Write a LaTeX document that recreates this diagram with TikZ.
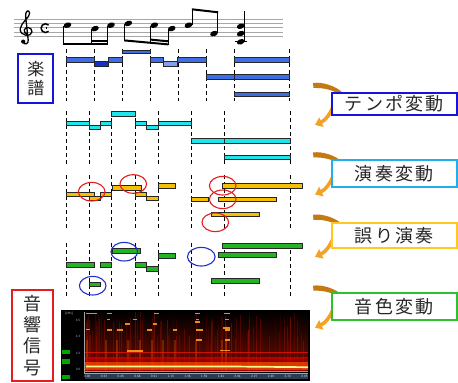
\documentclass[tikz,border=0pt]{standalone}
\usepackage{fontspec}
\newfontfamily\jp{Noto Sans CJK JP}
\usetikzlibrary{arrows.meta}
\definecolor{scoreblue}{HTML}{3D6EE6}
\definecolor{scoredark}{HTML}{1432C8}
\definecolor{cyanbar}{HTML}{20E4EC}
\definecolor{goldbar}{HTML}{F6C000}
\definecolor{greenbar}{HTML}{22B422}
\definecolor{circred}{HTML}{E41E1E}
\definecolor{circblue}{HTML}{2030D0}
\definecolor{tempoblue}{HTML}{1414DC}
\definecolor{ensoblue}{HTML}{22AEEA}
\definecolor{ayamari}{HTML}{FFC820}
\definecolor{neiro}{HTML}{2EC02E}
\definecolor{arrfront}{HTML}{F4A224}
\definecolor{arrback}{HTML}{C47A12}
\definecolor{axisbg}{HTML}{2C3C50}
\definecolor{spred}{HTML}{A01000}
\definecolor{harmc}{HTML}{FF9A22}
\tikzset{
  dline/.style={black, line width=0.9pt, dash pattern=on 3.5pt off 3.5pt},
  nbar/.style={draw=black!85, line width=0.6pt},
  rbox/.style={draw, fill=white, line width=2pt, minimum width=125pt, inner sep=0pt,
    font=\jp\fontsize{18}{20}\selectfont\addfontfeatures{LetterSpace=12}, text=black!85},
  lbox/.style={draw, fill=white, line width=2pt, inner sep=0pt, align=center, text=black!85},
  stemline/.style={line width=0.8pt},
  beam/.style={line width=2pt},
  harm/.style={harmc, line width=1.2pt, opacity=0.9},
  ticklab/.style={font=\sffamily\fontsize{3.3}{4}\selectfont, text=white!80!cyan, inner sep=0pt},
  ringred/.style={circred, line width=1.1pt},
  ringblue/.style={circblue, line width=1.1pt},
}
\newcommand\nbr[4]{\filldraw[nbar,fill=#4] (#1,#3-2.4) rectangle (#2,#3+2.4);}
\newcommand\nhd[2]{\fill[rotate around={20:(#1,#2)}] (#1,#2) ellipse [x radius=4, y radius=2.6];}
\newcommand\twist[1]{%
  \fill[arrback] (313,#1-21) .. controls (322,#1-22.5) and (336,#1-18) .. (343,#1-11) -- (343,#1-7) .. controls (335,#1-14) and (323,#1-16.5) .. (313.5,#1-16) -- cycle;
  \draw[arrfront, line width=3.6pt, -{Triangle[width=10pt,length=7pt]}] (334,#1+1) .. controls (330,#1+10) and (326,#1+16) .. (315,#1+21);
}
\begin{document}
\begin{tikzpicture}[x=1pt,y=-1pt]
\useasboundingbox (0,0) rectangle (458,383);
\fill[white] (0,0) rectangle (458,383);

% ---------- staff ----------
\foreach \y in {19,23.3,27.6,31.9,36.2} \draw[gray!70, line width=0.8pt] (14,\y) -- (283,\y);
% treble clef
\draw[line width=1.3pt, line cap=round] (23,42) .. controls (25,45.5) and (28.8,43.5) .. (28.2,40) -- (25.6,16)
  .. controls (25.2,11) and (29,9) .. (29.6,13) .. controls (30.2,17.5) and (21,22) .. (20.2,29)
  .. controls (19.5,36) and (31.5,37.5) .. (32,32) .. controls (32.4,27) and (25,26) .. (24.3,30)
  .. controls (24,32.5) and (25.5,33.8) .. (27,33.8);
\fill (23.2,41.6) circle (2.1);
% common time
\draw[line width=1.5pt] (48.6,31.3) arc[start angle=45, end angle=315, radius=4.4];
\draw[line width=0.8pt] (46.6,26.8) -- (46.6,29.2);
% notes group 1
\nhd{67.5}{25.2}\nhd{95}{28.6}\nhd{111}{25.2}
\draw[stemline] (63.7,25.8) -- (63.7,44.4); \draw[stemline] (91.2,29) -- (91.2,44.4); \draw[stemline] (107.2,25.8) -- (107.2,44.4);
\draw[beam] (63.3,43.5) -- (107.6,43.5); \draw[beam] (91,40.8) -- (107.6,40.8);
% notes group 2
\nhd{128.3}{23.4}\nhd{154.3}{25.2}\nhd{171.7}{28.6}
\draw[stemline] (124.5,24) -- (124.5,41.3); \draw[stemline] (150.7,25.8) -- (150.7,43.6); \draw[stemline] (167.9,29) -- (167.9,45.2);
\draw[beam] (124.1,40.4) -- (168.3,44.4); \draw[beam] (150.5,39.6) -- (168.3,41.3);
% notes group 3
\nhd{188.5}{25.2}\nhd{214}{33.6}
\draw[stemline] (192.3,24.8) -- (192.3,9.5); \draw[stemline] (217.8,33.2) -- (217.8,12);
\draw[beam] (191.9,9.3) -- (218.2,12.3);
% chord
\draw[line width=0.8pt] (235,41.6) -- (247,41.6);
\nhd{240.7}{26.2}\nhd{240.7}{33.6}\nhd{240.7}{41.8}
\draw[stemline] (244.6,42) -- (244.6,11.2);

% ---------- score rows (blue) ----------
\foreach \x in {66,94,122,150,178,206,234,289} \draw[dline] (\x,49) -- (\x,101);
\nbr{66}{94}{60}{scoreblue}
\nbr{94}{108.3}{63.7}{scoredark}
\nbr{108.3}{122}{60}{scoreblue}
\filldraw[nbar,fill=scoreblue] (122,50.3) rectangle (150,53.4);
\nbr{150}{163.3}{60}{scoreblue}
\nbr{163.3}{177.7}{63.7}{scoreblue!65!white}
\nbr{177.7}{206}{60}{scoreblue}
\nbr{206}{234}{77}{scoreblue}
\nbr{234}{289}{60}{scoreblue}
\nbr{234}{289}{77}{scoreblue}
\nbr{234}{289}{94.3}{scoreblue}

% ---------- tempo rows (cyan) ----------
\foreach \x in {66,89.3,111.7,135.7,158.3,191.7,224.3,290} \draw[dline] (\x,111) -- (\x,166);
\nbr{66}{89.3}{123.3}{cyanbar}
\nbr{89.3}{100.7}{127.3}{cyanbar}
\nbr{100.7}{111.7}{123.3}{cyanbar}
\nbr{111.7}{135.7}{114}{cyanbar}
\nbr{135.7}{146.7}{123.3}{cyanbar}
\nbr{146.7}{158.3}{127.3}{cyanbar}
\nbr{158.3}{191.7}{123.3}{cyanbar}
\nbr{191.7}{224.3}{140.7}{cyanbar}
\nbr{224.3}{290}{140.7}{cyanbar}
\nbr{224.3}{290}{157.3}{cyanbar}

% ---------- performance rows (gold) ----------
\foreach \x in {66,89.3,111.7,135.7,158.3,191.7,224.3,290} \draw[dline] (\x,175) -- (\x,228);
\nbr{66}{94.3}{194.3}{goldbar}
\nbr{89.3}{100.7}{198.3}{goldbar}
\nbr{100.7}{111.7}{194.3}{goldbar}
\nbr{112.3}{141.7}{187.7}{goldbar}
\nbr{135.7}{146.7}{194.3}{goldbar}
\nbr{146.7}{158.3}{198.3}{goldbar}
\nbr{158.3}{175}{186}{goldbar}
\nbr{191.7}{208.3}{199.3}{goldbar}
\nbr{222.7}{302.7}{186}{goldbar}
\nbr{218.3}{276}{199.3}{goldbar}
\nbr{211.7}{259.3}{214.3}{goldbar}
\draw[ringred] (91.7,191.7) ellipse [x radius=13.3, y radius=9.3];
\draw[ringred] (133.3,184) ellipse [x radius=13.3, y radius=9.3];
\draw[ringred] (222.7,185.7) ellipse [x radius=13.3, y radius=9.3];
\draw[ringred] (222.7,199.3) ellipse [x radius=13.3, y radius=9.3];
\draw[ringred] (215.3,222.3) ellipse [x radius=13.3, y radius=9.3];

% ---------- error rows (green) ----------
\foreach \x in {66,89.3,111.7,135.7,158.3,191.7,224.3,290} \draw[dline] (\x,243) -- (\x,297);
\nbr{66}{94.3}{265}{greenbar}
\nbr{100.7}{111.7}{265}{greenbar}
\nbr{112.3}{140}{251}{greenbar}
\nbr{135.7}{146.7}{265}{greenbar}
\nbr{146.7}{158.3}{269}{greenbar}
\nbr{158.3}{175}{256}{greenbar}
\nbr{222.7}{302.7}{245.7}{greenbar}
\nbr{218.3}{276}{255}{greenbar}
\nbr{211.7}{259.3}{281}{greenbar}
\nbr{89.3}{100.7}{284.3}{greenbar}
\draw[ringblue] (124.3,251.7) ellipse [x radius=13.3, y radius=9.3];
\draw[ringblue] (201.3,256.7) ellipse [x radius=13.8, y radius=9.3];
\draw[ringblue] (92.7,285.7) ellipse [x radius=13.3, y radius=9.3];

% ---------- spectrogram ----------
\fill[black] (61,310) rectangle (310,381);
\shade[top color=black, bottom color=spred!55!black] (85,312) rectangle (308,358);
\pgfmathsetseed{11}
\foreach \i in {1,...,110}{
  \pgfmathsetmacro\xx{86+221*rnd}
  \pgfmathsetmacro\op{0.1+0.4*rnd}
  \pgfmathsetmacro\yy{312+30*rnd}
  \draw[spred, opacity=\op, line width=0.6pt] (\xx,\yy) -- (\xx,372);
}
\foreach \x in {87,106,117,128,140,152,163,175,196,222,226}
  \fill[orange, opacity=0.25] (\x-0.8,340) rectangle (\x+0.8,372);
\fill[red!85!black, opacity=0.7] (85,357) rectangle (308,372);
\fill[orange!75!red, opacity=0.6] (85,362) rectangle (308,369.5);
\draw[red!80!orange, line width=0.6pt, opacity=0.7] (85,352.5) -- (308,352.5);
\draw[yellow!45!white, line width=1.7pt] (86,366.4) -- (220,366.4) -- (308,367.2);
\draw[orange, line width=0.6pt] (85,371) -- (308,371);
\foreach \a/\b/\y in {86/97/313.5,107/112/313.5,154/159/313.5,195/200/313.5,224/230/313.5,
  107/110/319.5,133/137/319.5,196/199/319.5,225/229/319.5,195/200/322,
  125/130/324,153/157/324,223/230/328,
  86/90/329.5,107/112/330,117/123/330,147/152/330,173/177/330,196/203/330,225/230/330,
  196/202/340,225/230/340,220/230/350.5,127/143/351}
  \draw[harm] (\a,\y) -- (\b,\y);
\draw[gray!70, line width=0.4pt] (84.5,312) -- (84.5,373) -- (308,373);
\fill[axisbg] (85,373.5) rectangle (308,379);
\foreach \l [count=\k from 0] in {0.00,0.23,0.45,0.68,0.91,1.13,1.36,1.59,1.81,2.04,2.27,2.49,2.72,2.95}
  \node[ticklab] at (87.3+16.7*\k,376.3) {\l};
\node[ticklab, text=gray!60] at (69,313.5) {[kHz]};
\node[ticklab, text=gray!60] at (78,320) {6.5};
\node[ticklab, text=gray!60] at (78,336.7) {4.3};
\node[ticklab, text=gray!60] at (78,353) {2.2};
\node[ticklab, text=gray!60] at (78,369.5) {0.0};
\fill[green!65!black] (62,349.5) rectangle (70,354);
\fill[green!65!black] (62,359) rectangle (70,363.5);
\fill[green!65!black] (62,374.5) rectangle (70,379);

% ---------- left labels ----------
\node[lbox, draw=tempoblue, minimum width=35pt, minimum height=48.7pt,
  font=\jp\fontsize{17}{19}\selectfont] (score) at (35.8,78.3) {楽\\譜};
\node[lbox, draw=circred, minimum width=41.6pt, minimum height=91pt,
  font=\jp\fontsize{18}{21.3}\selectfont] (signal) at (32.5,335.5) {音\\響\\信\\号};

% ---------- right labels with arrows ----------
\twist{104}
\node[rbox, draw=tempoblue, minimum height=22pt] (tempo) at (394.2,104) {テンポ変動};
\twist{173.5}
\node[rbox, draw=ensoblue, minimum height=26.7pt] (perf) at (394.2,173.4) {演奏変動};
\twist{235.8}
\node[rbox, draw=ayamari, minimum height=25pt] (error) at (394.2,235.8) {誤り演奏};
\twist{306.7}
\node[rbox, draw=neiro, minimum height=26.7pt] (timbre) at (394.2,306.7) {音色変動};
\end{tikzpicture}
\end{document}
